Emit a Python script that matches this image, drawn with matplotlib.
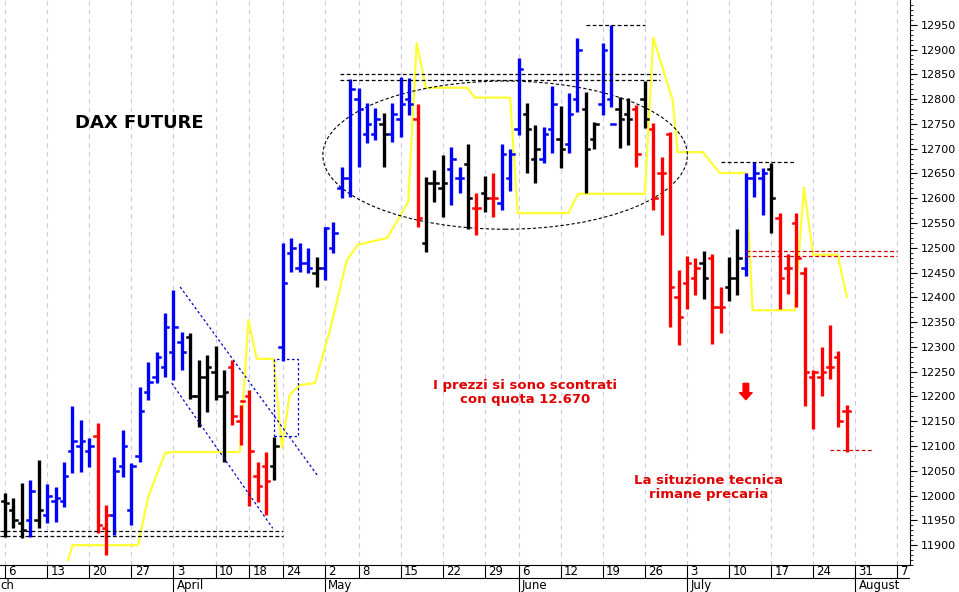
import matplotlib
matplotlib.use("Agg")
from matplotlib import pyplot as plt
from matplotlib.patches import Ellipse, Rectangle
import numpy as np

# daily bars (trading day index 0 = 6 March)
highs = [12005, 11995, 12025, 12031, 12072, 12023, 12017, 12068, 12181, 12152,
         12116, 12146, 11981, 12078, 12132, 12066, 12219, 12270, 12290, 12369,
         12415, 12330, 12328, 12274, 12284, 12302, 12253, 12274, 12183, 12213,
         12068, 12088, 12118, 12510, 12520, 12510, 12500, 12481, 12542, 12552,
         12663, 12841, 12823, 12793, 12783, 12773, 12793, 12845, 12843, 12791,
         12643, 12657, 12688, 12704, 12663, 12710, 12611, 12645, 12651, 12710,
         12700, 12883, 12793, 12748, 12744, 12827, 12787, 12813, 12924, 12815,
         12754, 12914, 12950, 12805, 12803, 12789, 12837, 12752, 12683, 12734,
         12455, 12484, 12479, 12494, 12488, 12421, 12481, 12538, 12651, 12673,
         12661, 12671, 12570, 12488, 12570, 12461, 12253, 12300, 12344, 12292,
         12183]
lows = [11916, 11934, 11914, 11916, 11934, 11944, 11946, 11977, 12045, 12047,
        12058, 11924, 11880, 11920, 12037, 11940, 12068, 12193, 12227, 12239,
        12233, 12253, 12195, 12138, 12169, 12193, 12068, 12142, 12102, 11979,
        11987, 11961, 12031, 12271, 12451, 12451, 12449, 12421, 12435, 12490,
        12600, 12603, 12663, 12712, 12718, 12663, 12714, 12724, 12768, 12542,
        12492, 12593, 12562, 12587, 12611, 12538, 12526, 12572, 12562, 12576,
        12615, 12728, 12651, 12631, 12671, 12692, 12661, 12692, 12774, 12611,
        12700, 12768, 12785, 12702, 12708, 12663, 12742, 12576, 12526, 12340,
        12304, 12376, 12405, 12397, 12306, 12328, 12393, 12405, 12443, 12603,
        12566, 12530, 12376, 12407, 12380, 12181, 12134, 12201, 12235, 12138,
        12088]
opens = [11990, 11970, 11945, 11950, 11950, 11960, 11990, 11990, 12090, 12100,
         12090, 12120, 11935, 11960, 12060, 11970, 12080, 12210, 12240, 12260,
         12290, 12310, 12320, 12200, 12240, 12250, 12200, 12260, 12150, 12200,
         12040, 12060, 12060, 12300, 12490, 12460, 12470, 12450, 12460, 12500,
         12620, 12640, 12800, 12730, 12730, 12750, 12730, 12760, 12800, 12760,
         12510, 12630, 12620, 12660, 12640, 12670, 12580, 12610, 12600, 12590,
         12640, 12740, 12770, 12680, 12680, 12740, 12720, 12710, 12800, 12780,
         12720, 12790, 12800, 12780, 12770, 12780, 12800, 12740, 12650, 12730,
         12400, 12430, 12440, 12470, 12480, 12380, 12420, 12440, 12460, 12640,
         12640, 12660, 12560, 12460, 12550, 12450, 12240, 12240, 12260, 12280,
         12170]
closes = [11985, 11950, 11930, 12010, 11970, 12000, 11995, 12040, 12110, 12110,
          12100, 11940, 11960, 12050, 12100, 12060, 12170, 12230, 12280, 12340,
          12340, 12290, 12200, 12240, 12260, 12200, 12210, 12160, 12190, 12090,
          12020, 12030, 12100, 12430, 12500, 12470, 12460, 12460, 12540, 12530,
          12640, 12820, 12780, 12750, 12760, 12730, 12770, 12790, 12790, 12560,
          12630, 12630, 12630, 12680, 12640, 12600, 12580, 12600, 12600, 12690,
          12690, 12860, 12740, 12700, 12730, 12790, 12700, 12770, 12900, 12700,
          12750, 12900, 12750, 12760, 12760, 12690, 12760, 12600, 12650, 12420,
          12360, 12470, 12460, 12440, 12380, 12380, 12440, 12480, 12640, 12650,
          12650, 12600, 12440, 12460, 12480, 12250, 12250, 12250, 12260, 12150,
          12170]
bar_colors = ("kkkbkbbbbbbrrbbbbbbbbbkkkkkrrrrrkbbbbkbbbbbbbkbbbrkkkbbkrkrbbbkkbbkbbkkbbkkrkrrrrrrkrrkkbbbkrrrrrrrrr")

# yellow line vertices (day index, price)
line_x = [7.5, 8.0, 15.8, 17.0, 19.0, 20.0, 27.9, 28.9, 29.9, 31.9, 32.9, 33.8, 35.0,
          36.8, 38.6, 40.6, 41.9, 45.4, 47.9, 48.9, 50.0, 54.9, 55.8, 60.0, 60.9,
          66.9, 68.1, 76.0, 77.0, 79.3, 79.9, 82.9, 84.9, 88.0, 88.8, 93.8, 94.9,
          96.0, 98.9, 100.0]
line_y = [11870, 11900, 11900, 11997, 12086, 12088, 12088, 12354, 12276, 12276,
          12096, 12203, 12223, 12227, 12334, 12475, 12506, 12520, 12593, 12913,
          12823, 12823, 12803, 12803, 12570, 12570, 12609, 12609, 12924, 12798,
          12693, 12693, 12651, 12651, 12374, 12374, 12621, 12486, 12486, 12401]

day_ticks = [0, 5, 10, 15, 20, 25, 29, 33, 38, 42, 47, 52, 57, 61, 66, 71, 76, 81, 86, 91, 96, 101, 106]
day_labels = ["6", "13", "20", "27", "3", "10", "18", "24", "2", "8", "15", "22", "29",
              "6", "12", "19", "26", "3", "10", "17", "24", "31", "7"]
month_pos = [-0.9, 20, 38, 61, 81, 101]
month_labels = ["ch", "April", "May", "June", "July", "August"]

COLORS = {"k": "black", "b": "#0000ff", "r": "#ff0000"}
XMIN, XMAX = -0.6, 107.5


def main():
    fig = plt.figure(figsize=(9.59, 5.92), dpi=100)
    ax = fig.add_axes([0, 27 / 592, 910 / 959, 565 / 592])
    ax.set_xlim(XMIN, XMAX)
    ax.set_ylim(11860, 13000)

    for x in day_ticks:
        ax.axvline(x, color="#c8c8f0", lw=0.8, ls=(0, (4, 4)), zorder=0)

    for i in range(len(highs)):
        c = COLORS[bar_colors[i]]
        ax.plot([i, i], [lows[i], highs[i]], color=c, lw=2.4, solid_capstyle="butt")
        ax.plot([i - 0.4, i], [opens[i], opens[i]], color=c, lw=1.8)
        ax.plot([i, i + 0.4], [closes[i], closes[i]], color=c, lw=1.8)

    ax.plot(line_x, line_y, color="#ffff33", lw=1.6, zorder=1)

    dash = dict(ls=(0, (3, 2)), lw=0.9)
    ax.plot([XMIN, 33], [11928, 11928], color="black", **dash)
    ax.plot([XMIN, 33], [11918, 11918], color="black", **dash)
    ax.plot([39.8, 77.8], [12851, 12851], color="black", **dash)
    ax.plot([39.8, 77.8], [12838, 12838], color="black", **dash)
    ax.plot([69, 76], [12950, 12950], color="black", **dash)
    ax.plot([85, 94], [12673, 12673], color="black", **dash)
    ax.plot([88, 106], [12494, 12494], color="#d00000", **dash)
    ax.plot([88, 106], [12484, 12484], color="#d00000", **dash)
    ax.plot([98, 103], [12092, 12092], color="#d00000", **dash)
    ax.add_patch(Ellipse((59.4, 12687), 43.3, 299, fill=False, ls=(0, (3, 2)), lw=0.8, color="black"))
    ax.plot([20.8, 37.1], [12421, 12041], color="#0000cc", ls=(0, (2, 2)), lw=0.9)
    ax.plot([19.8, 31.8], [12227, 11934], color="#0000cc", ls=(0, (2, 2)), lw=0.9)
    ax.add_patch(Rectangle((32, 12120), 2.8, 156, fill=False, ls=(0, (2, 2)), lw=0.9, color="#0000cc"))

    ax.text(8.3, 12752, "DAX FUTURE", fontsize=13, fontweight="bold", va="center")
    ax.text(61.8, 12208, "I prezzi si sono scontrati\ncon quota 12.670", color="#e00000",
            fontsize=9.5, fontweight="bold", ha="center", va="center", linespacing=1.1)
    ax.text(83.6, 12016, "La situzione tecnica\nrimane precaria", color="#e00000",
            fontsize=9.5, fontweight="bold", ha="center", va="center", linespacing=1.1)
    ax.annotate("", xy=(88, 12188), xytext=(88, 12232),
                arrowprops=dict(arrowstyle="simple,head_width=0.9,head_length=0.5,tail_width=0.4",
                                color="#ff0000"))

    # axes look
    ax.set_xticks([])
    for s in ["left", "top"]:
        ax.spines[s].set_visible(False)
    ax.yaxis.tick_right()
    ax.set_yticks(np.arange(11900, 12951, 50))
    ax.set_yticks(np.arange(11860, 13000, 10), minor=True)
    ax.tick_params(axis="y", which="major", length=5, labelsize=8, pad=3)
    ax.tick_params(axis="y", which="minor", length=2)

    # date strip below
    tx = fig.add_axes([0, 0, 910 / 959, 27 / 592])
    tx.set_xlim(XMIN, XMAX)
    tx.set_ylim(0, 27)
    tx.axis("off")
    tx.axhline(14, color="black", lw=0.8)
    for x, lab in zip(day_ticks, day_labels):
        tx.plot([x, x], [14, 27], color="black", lw=0.8)
        tx.text(x + 0.4, 20.5, lab, fontsize=8.5, va="center")
    for x, lab in zip(month_pos, month_labels):
        if x > 0:
            tx.plot([x, x], [0, 14], color="black", lw=0.8)
        tx.text(x + 0.4, 6.5, lab, fontsize=8.5, va="center")

    fig.savefig("out.png", dpi=100)


if __name__ == "__main__":
    main()
